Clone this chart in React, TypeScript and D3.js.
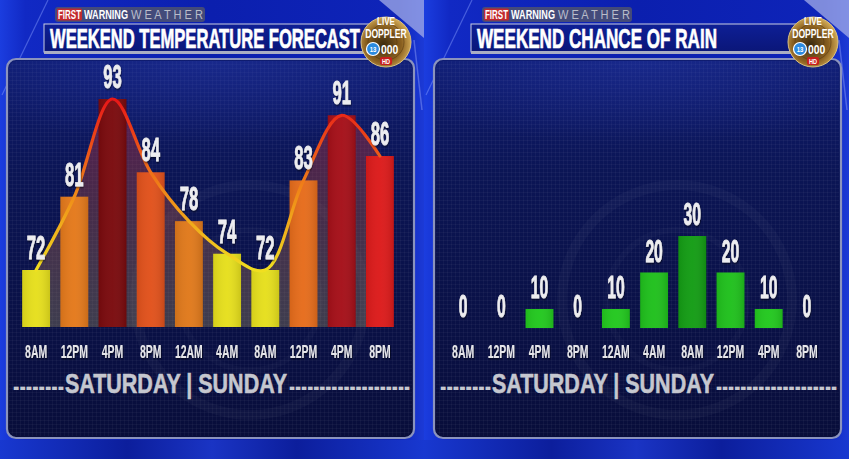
import React from 'react';
import * as d3 from 'd3';

const timeLabels = ['8AM', '12PM', '4PM', '8PM', '12AM', '4AM', '8AM', '12PM', '4PM', '8PM'];
const tempValues = [72, 81, 93, 84, 78, 74, 72, 83, 91, 86];
const rainValues = [0, 0, 10, 0, 10, 20, 30, 20, 10, 0];
const dayLabels = ['SATURDAY', 'SUNDAY'];
const panelTitles = ['WEEKEND TEMPERATURE FORECAST', 'WEEKEND CHANCE OF RAIN'];

const tempPalette = ['#e6df1c', '#e4791b', '#7a0a0d', '#e1511b', '#e0791b', '#e6df1c', '#e6df1c', '#e66c1b', '#a50f18', '#dc1a1a'];
const rainPalette = ['#22c81e', '#22c81e', '#22c81e', '#22c81e', '#22c81e', '#1fc01c', '#139c14', '#1fc01c', '#22c81e', '#22c81e'];

const FONT = "'Liberation Sans', Arial, Helvetica, sans-serif";
const W = 849;
const H = 459;

type CTextProps = {
  x: number; y: number; sx: number; size: number; fill: string;
  weight?: string; anchor?: string; children: React.ReactNode; filter?: string; stroke?: number;
};
function CText({ x, y, sx, size, fill, weight = 'bold', anchor = 'middle', children, filter, stroke = 0 }: CTextProps) {
  return (
    <text
      transform={`translate(${x},${y}) scale(${sx},1)`}
      fontSize={size}
      fill={fill}
      stroke={stroke ? fill : 'none'}
      strokeWidth={stroke}
      fontWeight={weight}
      textAnchor={anchor}
      fontFamily={FONT}
      filter={filter}
    >
      {children}
    </text>
  );
}

function Logo({ cx, cy, id }: { cx: number; cy: number; id: string }) {
  return (
    <g>
      <circle cx={cx} cy={cy} r={25} fill={`url(#logoGrad${id})`} stroke="#d8c080" strokeWidth={1} />
      <circle cx={cx} cy={cy} r={18} fill="none" stroke="#5a3a10" strokeWidth={1} opacity={0.6} />
      <circle cx={cx} cy={cy} r={11} fill="none" stroke="#5a3a10" strokeWidth={1} opacity={0.6} />
      <CText x={cx} y={cy - 17} sx={0.8} size={10} fill="#ffffff">LIVE</CText>
      <CText x={cx} y={cy - 4} sx={0.72} size={12} fill="#ffffff">DOPPLER</CText>
      <circle cx={cx - 13} cy={cy + 7} r={6.5} fill="#2a8ae0" stroke="#ffffff" strokeWidth={1.2} />
      <CText x={cx - 13} y={cy + 10} sx={0.75} size={8} fill="#ffffff">13</CText>
      <CText x={cx - 5} y={cy + 12} sx={0.8} size={13} fill="#ffffff" anchor="start">000</CText>
      <rect x={cx - 6} y={cy + 15} width={12} height={8} rx={2} fill="#c81e1e" />
      <CText x={cx} y={cy + 22} sx={0.8} size={7} fill="#ffffff">HD</CText>
    </g>
  );
}

function Panel({ offset, kind }: { offset: number; kind: 'temp' | 'rain' }) {
  const idx = timeLabels.map((_, i) => String(i));
  const x = d3.scaleBand<string>().domain(idx).range([17, 399]).paddingInner(0.27).paddingOuter(0.135);
  const cx = (i: number) => (x(String(i)) as number) + x.bandwidth() / 2;
  const isTemp = kind === 'temp';
  const values = isTemp ? tempValues : rainValues;
  const palette = isTemp ? tempPalette : rainPalette;
  const bottom = isTemp ? 327 : 328;
  const y = isTemp
    ? d3.scaleLinear().domain([65, 93]).range([327, 99])
    : d3.scaleLinear().domain([4.8, 30]).range([328, 236]).clamp(true);

  const curve = d3.curveCatmullRom.alpha(0.5);
  const lineGen = d3.line<number>().x((_, i) => cx(i)).y((d) => y(d)).curve(curve);
  const areaGen = d3.area<number>().x((_, i) => cx(i)).y0(bottom).y1((d) => y(d)).curve(curve);
  const title = isTemp ? panelTitles[0] : panelTitles[1];
  const titleLen = isTemp ? 310 : 240;
  const pid = isTemp ? 'a' : 'b';

  return (
    <g transform={`translate(${offset},0)`}>
      {/* box */}
      <rect x={7} y={59} width={407} height={379} rx={9} fill="url(#boxGrad)" stroke="#8b93bd" strokeWidth={2.2} />
      <rect x={9} y={61} width={403} height={375} rx={8} fill="url(#gridPat)" />
      <rect x={9} y={61} width={403} height={120} rx={8} fill="url(#boxGlow)" />
      {/* faint watermark arcs */}
      <circle cx={250} cy={300} r={115} fill="none" stroke="#ffffff" strokeOpacity={0.03} strokeWidth={10} />
      <circle cx={250} cy={300} r={70} fill="none" stroke="#ffffff" strokeOpacity={0.025} strokeWidth={6} />

      {/* title tab */}
      <rect x={55} y={7} width={150} height={15} rx={3} fill="#4e5270" fillOpacity={0.85} />
      <rect x={57} y={8.5} width={25} height={12} rx={1.5} fill="#c22a2e" />
      <text x={58} y={19} fontSize={12} fontWeight="bold" fill="#ffffff" fontFamily={FONT} textLength={23} lengthAdjust="spacingAndGlyphs">FIRST</text>
      <text x={84} y={19} fontSize={12} fontWeight="bold" fill="#ffffff" fontFamily={FONT} textLength={44} lengthAdjust="spacingAndGlyphs">WARNING</text>
      <text x={131} y={19} fontSize={12} fill="#b9bdca" fontFamily={FONT} textLength={72} lengthAdjust="spacingAndGlyphs">W E A T H E R</text>

      {/* title banner */}
      <rect x={44} y={24} width={352} height={28} fill="url(#bannerGrad)" stroke="#c9cde2" strokeWidth={1} />
      <rect x={44} y={51} width={352} height={3} fill="#a9adc4" />
      <text x={50} y={48} fontSize={28} fontWeight="bold" fill="#ffffff" stroke="#ffffff" strokeWidth={0.7} fontFamily={FONT} textLength={titleLen} lengthAdjust="spacingAndGlyphs">{title}</text>

      {/* area + bars */}
      {isTemp && <path d={areaGen(values) as string} fill="url(#areaGrad)" />}
      {values.map((v, i) =>
        v > 0 ? (
          <g key={`b${i}`}>
            <rect x={x(String(i)) as number} y={y(v)} width={x.bandwidth()} height={bottom - y(v)} fill={palette[i]} />
            <rect x={x(String(i)) as number} y={y(v)} width={x.bandwidth()} height={bottom - y(v)} fill="url(#barShade)" />
          </g>
        ) : null
      )}
      {isTemp && (
        <path d={lineGen(values) as string} fill="none" stroke="url(#lineGrad)" strokeWidth={3.2} strokeLinecap="round" />
      )}

      {/* value labels */}
      {values.map((v, i) => (
        <CText key={`v${i}`} x={cx(i)} y={Math.min(y(v), bottom) - 11} sx={0.49} size={isTemp ? 34 : 32} fill="#ededf0" stroke={0.8} filter="url(#shadow)">
          {v}
        </CText>
      ))}

      {/* time labels */}
      {timeLabels.map((t, i) => (
        <CText key={`t${i}`} x={cx(i)} y={358} sx={0.58} size={18} fill="#e6e6ea" weight="bold" filter="url(#shadow)">
          {t}
        </CText>
      ))}

      {/* day labels */}
      <text x={13} y={396} fontSize={28} fontWeight="bold" fill="#c5c7cf" fontFamily={FONT} textLength={51} lengthAdjust="spacingAndGlyphs">--------</text>
      <text x={65} y={393} fontSize={28} fontWeight="bold" fill="#c5c7cf" stroke="#c5c7cf" strokeWidth={0.6} fontFamily={FONT} textLength={222} lengthAdjust="spacingAndGlyphs">{`${dayLabels[0]} | ${dayLabels[1]}`}</text>
      <text x={289} y={396} fontSize={28} fontWeight="bold" fill="#c5c7cf" fontFamily={FONT} textLength={121} lengthAdjust="spacingAndGlyphs">--------------------</text>

      <Logo cx={386} cy={42} id={pid} />
    </g>
  );
}

function Background({ x0, w }: { x0: number; w: number }) {
  return (
    <g>
      <rect x={x0} y={0} width={w} height={H} fill="url(#bgGrad)" />
      <polygon points={`${x0 + w - 45},0 ${x0 + w},0 ${x0 + w},38`} fill="#a4aee8" opacity={0.75} />
      <line x1={x0 + 48} y1={0} x2={x0 + 2} y2={95} stroke="#8aa0ff" strokeOpacity={0.45} strokeWidth={1.2} />
      <line x1={x0 + w - 10} y1={40} x2={x0 + w - 2} y2={110} stroke="#9fb0ff" strokeOpacity={0.4} strokeWidth={1.5} />
      <rect x={x0} y={440} width={w} height={19} fill="url(#bottomGrad)" />
    </g>
  );
}

export default function App() {
  return (
    <svg width={W} height={H} viewBox={`0 0 ${W} ${H}`} style={{ position: 'absolute', left: 0, top: 0, display: 'block' }}>
      <defs>
        <linearGradient id="bgGrad" x1="0" x2="1" y1="0" y2="0">
          <stop offset="0" stopColor="#1b3ddf" />
          <stop offset="0.06" stopColor="#1129c4" />
          <stop offset="0.5" stopColor="#0b1fae" />
          <stop offset="0.94" stopColor="#0e24b9" />
          <stop offset="1" stopColor="#1c3ad6" />
        </linearGradient>
        <linearGradient id="bottomGrad" x1="0" x2="1" y1="0" y2="0">
          <stop offset="0" stopColor="#1838d0" />
          <stop offset="0.3" stopColor="#0c1e9c" />
          <stop offset="0.5" stopColor="#1a34c4" />
          <stop offset="0.7" stopColor="#0c1e9c" />
          <stop offset="1" stopColor="#1838d0" />
        </linearGradient>
        <linearGradient id="boxGrad" x1="0" x2="0" y1="0" y2="1">
          <stop offset="0" stopColor="#0f1c70" />
          <stop offset="0.3" stopColor="#0b1555" />
          <stop offset="1" stopColor="#080d3a" />
        </linearGradient>
        <radialGradient id="boxGlow" cx="0.5" cy="0" r="0.7">
          <stop offset="0" stopColor="#2a40c0" stopOpacity="0.35" />
          <stop offset="1" stopColor="#2a40c0" stopOpacity="0" />
        </radialGradient>
        <pattern id="gridPat" width="4" height="4" patternUnits="userSpaceOnUse">
          <path d="M0 0.5 H4 M0.5 0 V4" stroke="#ffffff" strokeOpacity="0.035" strokeWidth="1" />
        </pattern>
        <linearGradient id="bannerGrad" x1="0" x2="0" y1="0" y2="1">
          <stop offset="0" stopColor="#0e1f96" />
          <stop offset="1" stopColor="#0a1678" />
        </linearGradient>
        <linearGradient id="areaGrad" x1="0" x2="0" y1="99" y2="327" gradientUnits="userSpaceOnUse">
          <stop offset="0" stopColor="#b0203a" stopOpacity="0.45" />
          <stop offset="0.5" stopColor="#a05040" stopOpacity="0.4" />
          <stop offset="1" stopColor="#a09060" stopOpacity="0.35" />
        </linearGradient>
        <linearGradient id="lineGrad" x1="0" x2="0" y1="272" y2="100" gradientUnits="userSpaceOnUse">
          <stop offset="0" stopColor="#f0e020" />
          <stop offset="0.45" stopColor="#f08a18" />
          <stop offset="1" stopColor="#e81818" />
        </linearGradient>
        <linearGradient id="barShade" x1="0" x2="1" y1="0" y2="0">
          <stop offset="0" stopColor="#000000" stopOpacity="0.08" />
          <stop offset="0.5" stopColor="#ffffff" stopOpacity="0.03" />
          <stop offset="1" stopColor="#000000" stopOpacity="0.12" />
        </linearGradient>
        <radialGradient id="logoGrada" cx="0.45" cy="0.55" r="0.6">
          <stop offset="0" stopColor="#3a2a10" />
          <stop offset="0.6" stopColor="#8a6020" />
          <stop offset="1" stopColor="#e0b860" />
        </radialGradient>
        <radialGradient id="logoGradb" cx="0.45" cy="0.55" r="0.6">
          <stop offset="0" stopColor="#3a2a10" />
          <stop offset="0.6" stopColor="#8a6020" />
          <stop offset="1" stopColor="#e0b860" />
        </radialGradient>
        <filter id="shadow" x="-20%" y="-20%" width="140%" height="140%">
          <feDropShadow dx="1" dy="1" stdDeviation="0.8" floodColor="#000000" floodOpacity="0.7" />
        </filter>
      </defs>
      <Background x0={0} w={424} />
      <Background x0={424} w={425} />
      <Panel offset={0} kind="temp" />
      <Panel offset={427} kind="rain" />
    </svg>
  );
}
